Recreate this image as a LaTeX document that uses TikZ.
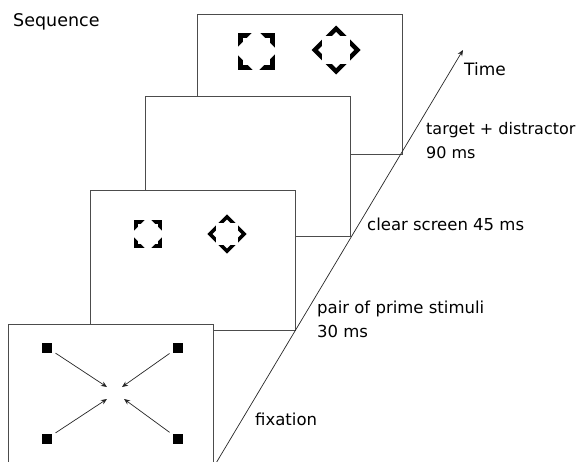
\documentclass[tikz,border=0pt]{standalone}
\usepackage{fontspec}
\setmainfont{DejaVu Sans}
\usepackage{tikz}
\usetikzlibrary{arrows.meta}
\tikzstyle{frame}=[draw=black!70,fill=white,line width=0.6pt,minimum width=205pt,minimum height=140pt,inner sep=0pt,anchor=north west]
\tikzstyle{dot}=[fill=black,minimum size=10pt,inner sep=0pt]
\tikzstyle{steptext}=[anchor=base west,inner sep=0pt,align=left,font=\fontsize{16.5}{24}\selectfont,text=black]
\tikzset{
  notchsq/.pic={
    \fill (-18.5,-18.5) rectangle (18.5,18.5);
    \fill[white] (-13.5,-13.5) rectangle (13.5,13.5);
    \fill[white] (0,-22.2) -- (22.2,0) -- (0,22.2) -- (-22.2,0) -- cycle;},
  notchdia/.pic={
    \fill (0,-24.5) -- (24.5,0) -- (0,24.5) -- (-24.5,0) -- cycle;
    \fill[white] (-14,-14) rectangle (14,14);
    \fill[white] (0,-18) -- (18,0) -- (0,18) -- (-18,0) -- cycle;}
}

\begin{document}
\begin{tikzpicture}[x=1pt,y=-1pt,>={Stealth[length=6pt,width=5pt]}]
  \clip (0,0) rectangle (584,461);
  % screens, back to front
  \foreach \name/\x/\y in {F-4/197/14, F-3/145/96, F-2/90/190, F-1/8/324}
    \node[frame] (\name) at (\x,\y) {};
  % target + distractor, then the smaller primes
  \pic at (256,51) {notchsq};
  \pic at (336,50) {notchdia};
  \pic[scale=0.77] at (148,234) {notchsq};
  \pic[scale=0.8] at (227,234) {notchdia};
  % fixation
  \foreach \name/\x/\y/\cx/\cy in {1/47/347.5/107/387, 2/178/347.5/122/387,
                                   3/47/438.5/107/399, 4/178/438.5/124/399} {
    \node[dot] (S-\name) at (\x,\y) {};
    \coordinate (C-\name) at (\cx,\cy);
    \draw[->,black!85,line width=0.7pt,shorten <=4pt] (S-\name) -- (C-\name);
  }
  % time axis
  \coordinate (t0) at (215.5,464);
  \coordinate (t1) at (463,50);
  \draw[->,black!85,line width=0.7pt] (t0) -- (t1);
  \node[steptext,font=\fontsize{17.5}{24}\selectfont] (seq) at (13,26) {Sequence};
  \node[steptext,font=\fontsize{17}{24}\selectfont] (time) at (464,75) {Time};
  \node[steptext,font=\fontsize{16}{24}\selectfont] (l-4) at (426,158) {target + distractor\\90 ms};
  \node[steptext] (l-3) at (367,230) {clear screen 45 ms};
  \node[steptext] (l-2) at (317,337) {pair of prime stimuli\\30 ms};
  \node[steptext] (l-1) at (255,425) {fixation};
\end{tikzpicture}
\end{document}
